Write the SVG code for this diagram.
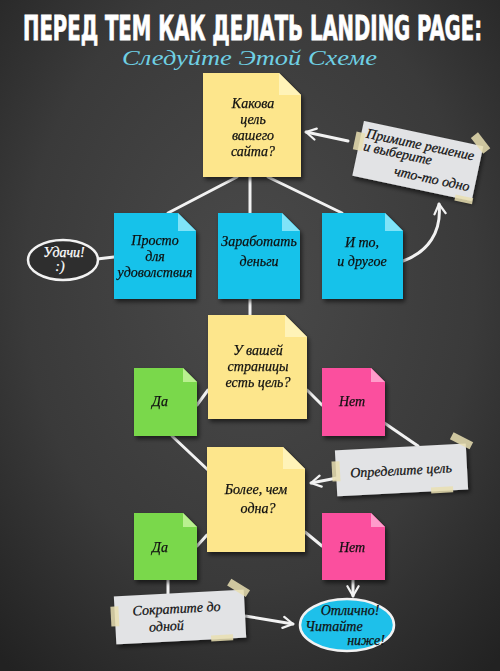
<svg xmlns="http://www.w3.org/2000/svg" width="500" height="671" viewBox="0 0 500 671">
<defs>
<radialGradient id="bg" cx="0.5" cy="0.42" r="0.75">
<stop offset="0" stop-color="#4a4a4a"/>
<stop offset="0.6" stop-color="#3a3a3a"/>
<stop offset="1" stop-color="#222"/>
</radialGradient>
<filter id="sh" x="-20%" y="-20%" width="150%" height="150%">
<feDropShadow dx="2" dy="3" stdDeviation="2" flood-color="#000" flood-opacity="0.55"/>
</filter>
<marker id="ah2" viewBox="0 0 10 10" refX="8" refY="5" markerWidth="14" markerHeight="14" orient="auto" markerUnits="userSpaceOnUse">
<path d="M1,1 L8,5 L1,9" fill="none" stroke="#f2f2f2" stroke-width="1.6" stroke-linecap="round" stroke-linejoin="round"/>
</marker>
</defs>
<style>
.title{font-family:"DejaVu Sans Condensed","Liberation Sans Narrow","DejaVu Sans",sans-serif;font-weight:bold;fill:#fff;stroke:#fff;stroke-width:0.5}
.sub{font-family:"Liberation Serif",serif;font-style:italic;fill:#6fd0e4}
.hw{font-family:"Liberation Serif","DejaVu Serif",serif;font-style:italic;font-size:14px;fill:#111;text-anchor:middle;stroke:#111;stroke-width:0.25}
.yel{fill:#fde68c}.yelf{fill:#fff3b8}
.blu{fill:#16c2ea}.bluf{fill:#7fe3f8}
.grn{fill:#7ad84c}.grnf{fill:#b9f08f}
.pnk{fill:#fb4f9e}.pnkf{fill:#ff9ccb}
.note{filter:url(#sh)}
.paper{fill:#e2e3e5;filter:url(#sh)}
.tape{fill:#e9dfb2;opacity:0.85}
.ln{stroke:#f2f2f2;stroke-width:3;fill:none;stroke-linecap:round}
</style>
<rect width="500" height="671" fill="url(#bg)"/>
<g transform="translate(0 40) scale(1 1.55)">
<text class="title" x="23" y="0" font-size="22" textLength="459" lengthAdjust="spacingAndGlyphs">ПЕРЕД ТЕМ КАК ДЕЛАТЬ LANDING PAGE:</text>
</g>
<text class="sub" x="122" y="65" font-size="21" textLength="255" lengthAdjust="spacingAndGlyphs">Следуйте Этой Схеме</text>

<g id="connectors">
<line class="ln" x1="237" y1="177" x2="168" y2="213"/>
<line class="ln" x1="250" y1="177" x2="250" y2="213"/>
<line class="ln" x1="268" y1="177" x2="342" y2="213"/>
<path class="ln" d="M348,141 L306,132" marker-end="url(#ah2)"/>
<path class="ln" d="M403,261 C428,252 442,232 439,204" marker-end="url(#ah2)"/>
<line class="ln" x1="97" y1="259" x2="114" y2="257"/>
<line class="ln" x1="250" y1="298" x2="250" y2="315"/>
<line class="ln" x1="208" y1="390" x2="197" y2="405"/>
<line class="ln" x1="307" y1="390" x2="322" y2="405"/>
<line class="ln" x1="172" y1="436" x2="208" y2="470"/>
<line class="ln" x1="380" y1="420" x2="418" y2="446"/>
<path class="ln" d="M337,478 L311,483" marker-end="url(#ah2)"/>
<line class="ln" x1="207" y1="535" x2="197" y2="546"/>
<line class="ln" x1="305" y1="532" x2="322" y2="546"/>
<line class="ln" x1="168" y1="580" x2="168" y2="595"/>
<path class="ln" d="M353,580 L353,596" marker-end="url(#ah2)"/>
<path class="ln" d="M245,616 L293,624" marker-end="url(#ah2)"/>
</g>

<g id="q-goal" class="note">
<path class="yel" d="M203,73 H279 L301,95 V177 H203 Z"/>
<path class="yelf" d="M279,73 L279,95 L301,95 Z"/>
<text class="hw"><tspan x="253" y="108">Какова</tspan><tspan x="253" y="124">цель</tspan><tspan x="253" y="140">вашего</tspan><tspan x="253" y="156">сайта?</tspan></text>
</g>

<g id="decide" transform="rotate(12 418 160)">
<rect class="paper" x="357" y="133" width="122" height="56"/>
<rect class="tape" x="352" y="145" width="9" height="18"/>
<rect class="tape" x="466" y="126" width="20" height="9" transform="rotate(40 476 130)"/>
<rect class="tape" x="462" y="186" width="18" height="6"/>
<text class="hw"><tspan x="362" y="149" text-anchor="start">Примите решение</tspan><tspan x="362" y="162" text-anchor="start">и выберите</tspan><tspan x="474" y="180" text-anchor="end">что-то одно</tspan></text>
</g>

<g id="fun" class="note">
<path class="blu" d="M114,213 H178 L196,231 V299 H114 Z"/>
<path class="bluf" d="M178,213 L178,231 L196,231 Z"/>
<text class="hw"><tspan x="155" y="245">Просто</tspan><tspan x="155" y="261">для</tspan><tspan x="155" y="277">удоволствия</tspan></text>
</g>
<g id="money" class="note">
<path class="blu" d="M218,213 H282 L300,231 V299 H218 Z"/>
<path class="bluf" d="M282,213 L282,231 L300,231 Z"/>
<text class="hw"><tspan x="259" y="246">Заработать</tspan><tspan x="259" y="266">деньги</tspan></text>
</g>
<g id="both" class="note">
<path class="blu" d="M322,213 H385 L403,231 V299 H322 Z"/>
<path class="bluf" d="M385,213 L385,231 L403,231 Z"/>
<text class="hw"><tspan x="362" y="247">И то,</tspan><tspan x="362" y="266">и другое</tspan></text>
</g>

<g id="luck">
<ellipse cx="63" cy="260" rx="35" ry="20" fill="#2e2e2e" stroke="#f2f2f2" stroke-width="2.5"/>
<text class="hw" style="fill:#fff;stroke:#fff"><tspan x="64" y="257">Удачи!</tspan><tspan x="60" y="271">:)</tspan></text>
</g>

<g id="q-page" class="note">
<path class="yel" d="M208,315 H285 L307,337 V419 H208 Z"/>
<path class="yelf" d="M285,315 L285,337 L307,337 Z"/>
<text class="hw"><tspan x="258" y="355">У вашей</tspan><tspan x="258" y="371">страницы</tspan><tspan x="258" y="387">есть цель?</tspan></text>
</g>
<g id="yes1" class="note">
<path class="grn" d="M134,368 H183 L197,382 V436 H134 Z"/>
<path class="grnf" d="M183,368 L183,382 L197,382 Z"/>
<text class="hw" x="160" y="406">Да</text>
</g>
<g id="no1" class="note">
<path class="pnk" d="M322,368 H371 L385,382 V436 H322 Z"/>
<path class="pnkf" d="M371,368 L371,382 L385,382 Z"/>
<text class="hw" x="352" y="406">Нет</text>
</g>

<g id="define" transform="rotate(-3 400 470)">
<rect class="paper" x="336" y="447" width="131" height="46"/>
<rect class="tape" x="332" y="458" width="8" height="20"/>
<rect class="tape" x="452" y="440" width="22" height="8" transform="rotate(30 463 444)"/>
<rect class="tape" x="430" y="489" width="22" height="6"/>
<text class="hw" x="401" y="475">Определите  цель</text>
</g>

<g id="q-more" class="note">
<path class="yel" d="M207,447 H283 L305,469 V552 H207 Z"/>
<path class="yelf" d="M283,447 L283,469 L305,469 Z"/>
<text class="hw"><tspan x="256" y="494">Более,  чем</tspan><tspan x="258" y="513">одна?</tspan></text>
</g>
<g id="yes2" class="note">
<path class="grn" d="M134,513 H183 L197,527 V580 H134 Z"/>
<path class="grnf" d="M183,513 L183,527 L197,527 Z"/>
<text class="hw" x="160" y="552">Да</text>
</g>
<g id="no2" class="note">
<path class="pnk" d="M322,513 H371 L385,527 V580 H322 Z"/>
<path class="pnkf" d="M371,513 L371,527 L385,527 Z"/>
<text class="hw" x="352" y="552">Нет</text>
</g>

<g id="reduce" transform="rotate(-3 180 617)">
<rect class="paper" x="115" y="593" width="130" height="48"/>
<rect class="tape" x="111" y="603" width="8" height="20"/>
<rect class="tape" x="229" y="587" width="22" height="8" transform="rotate(35 240 591)"/>
<rect class="tape" x="210" y="637" width="22" height="6"/>
<text class="hw"><tspan x="177" y="613">Сократите  до</tspan><tspan x="166" y="630">одной</tspan></text>
</g>

<g id="great">
<ellipse cx="347" cy="625" rx="47" ry="26" fill="#1ec0ea" stroke="#f2f2f2" stroke-width="2.5"/>
<text class="hw"><tspan x="350" y="615">Отлично!</tspan><tspan x="334" y="631">Читайте</tspan><tspan x="366" y="645">ниже!</tspan></text>
</g>
</svg>
